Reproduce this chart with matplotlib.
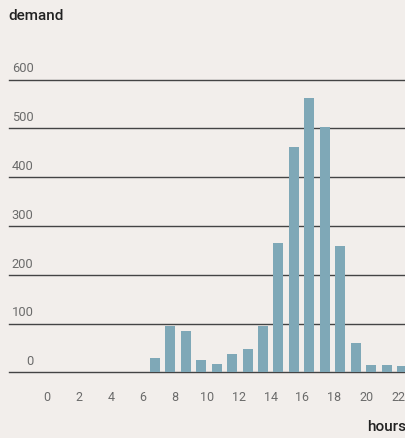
import matplotlib.pyplot as plt

hours = list(range(24))
demand = [0, 0, 0, 0, 0, 0, 0, 29, 95, 85, 25, 17, 37, 48, 95,
          265, 462, 562, 503, 259, 60, 15, 15, 13]
y_ticks = [0, 100, 200, 300, 400, 500, 600]
x_ticks = list(range(0, 24, 2))

bg = '#f2eeeb'
bar_color = '#7fa8b7'
label_grey = '#6b6b6b'

plt.rcParams['font.family'] = ['Roboto', 'DejaVu Sans']

fig = plt.figure(figsize=(4.06, 4.38), dpi=100, facecolor=bg)
ax = fig.add_axes([9.3 / 406, 1 - 372.3 / 438, 1 - 9.3 / 406, (372.3 - 79.5) / 438])
ax.set_facecolor(bg)

# bars
ax.bar(hours, demand, width=0.65, color=bar_color, zorder=3)
ax.set_xlim(-2.435, 23.26)
ax.set_ylim(0, 600)

# gridlines with labels sitting on top of them
for v in y_ticks:
    ax.axhline(v, color='#444444', lw=1, zorder=2, clip_on=False)
    ax.annotate(str(v), xy=(33.5 / 406, v), xycoords=('figure fraction', 'data'),
                xytext=(0, 3), textcoords='offset points',
                ha='right', va='bottom', fontsize=9.3, color=label_grey)

for s in ax.spines.values():
    s.set_visible(False)
ax.set_xticks([])
ax.set_yticks([])

# hour labels on their own scale
ax2 = ax.twiny()
ax2.set_xlim(-2.382, 22.49)
ax2.set_xticks(x_ticks)
ax2.set_xticklabels([str(t) for t in x_ticks])
ax2.xaxis.set_ticks_position('bottom')
ax2.xaxis.set_label_position('bottom')
ax2.tick_params(axis='x', length=0, pad=13.5, labelsize=9, labelcolor=label_grey)
for s in ax2.spines.values():
    s.set_visible(False)
ax2.set_yticks([])

fig.text(8 / 406, 1 - 16 / 438, 'demand', ha='left', va='center',
         fontsize=11, fontweight='medium', color='#222222')
fig.text(406 / 406, 1 - 427 / 438, 'hours', ha='right', va='center',
         fontsize=11, fontweight='medium', color='#222222')

fig.savefig('out.png', dpi=100, facecolor=bg)
